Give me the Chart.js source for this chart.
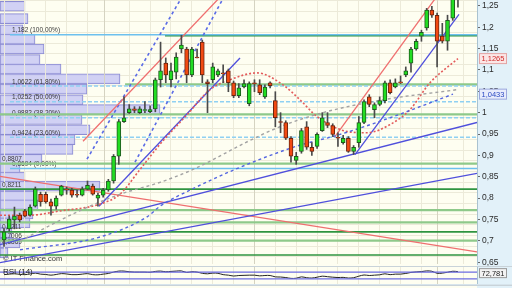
<!DOCTYPE html>
<html><head><meta charset="utf-8">
<script src="https://cdn.jsdelivr.net/npm/chart.js@4.4.1/dist/chart.umd.min.js"></script>
<style>
html,body{margin:0;padding:0;background:#d7e4ec;width:512px;height:288px;overflow:hidden;}
#wrap{position:relative;width:512px;height:288px;}
.panel{position:absolute;left:0;width:512px;background:linear-gradient(to right,#fefef1 0,#fefef1 477px,#e2f1f9 477px);}
canvas{position:absolute;left:0;top:0;}
</style></head>
<body><div id="wrap">
<div class="panel" style="top:0;height:266px"><canvas id="bg" width="512" height="266"></canvas><canvas id="main" width="512" height="266"></canvas></div>
<div class="panel" style="top:266px;height:17px;border-top:1px solid #c9d3d9"><canvas id="rsi" width="512" height="17"></canvas></div>
<div class="panel" style="top:285px;height:3px;border-top:1px solid #c9d3d9"></div>
</div>
<script>
// ---------- DATA ----------
const open = [0.702,0.728,0.749,0.760,0.770,0.760,0.781,0.809,0.809,0.791,
0.781,0.807,0.821,0.819,0.809,0.807,0.821,0.828,0.800,0.807,
0.819,0.840,0.898,0.979,1.000,1.009,1.000,1.005,1.002,1.009,
1.077,1.116,1.077,1.095,1.149,1.149,1.088,1.130,1.165,1.072,
1.077,1.088,1.093,1.098,1.070,1.040,1.060,1.021,1.070,1.065,
1.037,1.070,1.028,0.979,0.977,0.940,0.888,0.909,0.967,0.919,
0.921,0.958,0.977,0.970,0.942,0.930,0.940,0.909,0.930,0.977,
1.037,1.007,1.019,1.028,1.070,1.060,1.072,1.088,1.116,1.149,
1.179,1.198,1.240,1.228,1.179,1.167,1.221,1.267];
const high = [0.728,0.758,0.779,0.765,0.774,0.784,0.826,0.814,0.814,0.798,
0.805,0.830,0.826,0.823,0.819,0.826,0.840,0.833,0.812,0.823,
0.844,0.902,0.984,1.037,1.019,1.014,1.014,1.026,1.016,1.081,
1.165,1.128,1.116,1.140,1.181,1.153,1.153,1.149,1.170,1.077,
1.116,1.102,1.112,1.102,1.074,1.068,1.077,1.072,1.077,1.077,
1.065,1.072,1.049,1.000,0.981,0.944,0.907,0.963,0.979,0.930,
0.953,1.000,1.000,0.974,0.953,0.947,0.944,0.923,0.991,1.030,
1.042,1.023,1.037,1.074,1.077,1.079,1.086,1.107,1.153,1.172,
1.193,1.244,1.249,1.233,1.209,1.228,1.298,1.286];
const low = [0.687,0.723,0.728,0.744,0.756,0.758,0.779,0.781,0.788,0.760,
0.774,0.805,0.809,0.802,0.802,0.805,0.819,0.807,0.781,0.802,
0.816,0.835,0.879,0.977,0.998,1.000,0.998,1.000,1.000,1.002,
1.060,1.070,1.060,1.079,1.140,1.070,1.084,1.128,1.070,1.000,
1.070,1.084,1.070,1.049,1.035,1.035,1.058,1.016,1.049,1.042,
1.033,1.058,0.967,0.953,0.937,0.884,0.879,0.905,0.914,0.900,
0.916,0.956,0.965,0.944,0.921,0.926,0.907,0.902,0.919,0.974,
1.014,0.988,1.016,1.023,1.044,1.058,1.068,1.084,1.095,1.146,
1.167,1.193,1.223,1.107,1.163,1.146,1.216,1.247];
const close = [0.721,0.751,0.758,0.749,0.758,0.779,0.821,0.791,0.791,0.781,
0.800,0.828,0.819,0.807,0.807,0.821,0.830,0.809,0.807,0.819,
0.840,0.898,0.979,0.988,1.009,1.005,1.009,1.007,1.007,1.077,
1.098,1.088,1.098,1.130,1.158,1.088,1.149,1.128,1.088,1.068,
1.107,1.098,1.091,1.070,1.040,1.058,1.068,1.068,1.068,1.047,
1.060,1.063,0.988,0.977,0.940,0.898,0.898,0.958,0.919,0.909,
0.949,0.988,0.970,0.949,0.940,0.940,0.909,0.919,0.977,1.026,
1.019,1.019,1.028,1.070,1.047,1.070,1.070,1.098,1.149,1.167,
1.188,1.240,1.228,1.167,1.167,1.216,1.277,1.272];

const rsi = [55,58,60,57,55,59,64,58,56,52,
56,61,59,55,55,58,61,55,54,58,
62,70,76,76,72,70,70,70,69,74,
76,72,74,76,77,68,72,70,63,60,
64,63,55,52,47,50,51,52,52,48,
50,50,42,41,38,33,34,42,37,35,
40,46,43,40,38,39,35,37,46,53,
50,52,54,60,55,58,58,62,68,71,
73,77,75,63,64,69,75,72.781];

// volume-at-price profile
const profilePrice = [1.249,1.220,1.194,1.172,1.149,1.124,1.102,1.079,1.055,1.030,1.007,0.984,0.960,0.937,0.914,0.891,0.870,0.849,0.828,0.805,0.784,0.763,0.742,0.719,0.695,0.672];
const profileVol   = [25,28,23,35,44,40,61,120,87,83,160,82,90,75,73,42,20,25,100,35,38,33,30,12,20,8];

// Fibonacci retracement levels
const fibLevels = [1.182,1.0622,1.0252,0.9882,0.9424,0.8694];
const fibLabels = ['1,182 (100,00%)','1,0622 (61,80%)','1,0252 (50,00%)','0,9882 (38,20%)','0,9424 (23,60%)','0,8694 (0,00%)'];
const fibStart = 1.15;

// support / resistance levels
const greenLevels = [1.180,1.066,0.996,0.8807,0.8211,0.772,0.743,0.721,0.7006,0.667];
const greenStart  = [30.85,23.2,-0.77,-0.77,-0.77,-0.77,-0.77,-0.77,-0.77,-0.77];
const greenHeavy  = [true,false,false,false,true,false,false,true,false,true];
const keyLevels = [0.8807,0.8211,0.7211,0.7006,0.6869];
const keyLabels = ['0,8807','0,8211','0,7211','0,7006','0,6869'];

// trend lines (start index, start price, end index, end price)
const trendX0 = [15.14,15.9,25.1,18.2,67.27,63.43,-0.77,-0.77,-0.77];
const trendY0 = [0.933,0.891,0.884,0.781,0.902,0.944,0.691,0.649,0.851];
const trendX1 = [42,34.5,42.5,45.23,87.2,83,90.65,90.65,90.65];
const trendY1 = [1.278,1.279,1.279,1.128,1.230,1.273,0.977,0.858,0.674];
const trendKind = ['red','bdash','bdash','blue','blue','red','blue','blue','red'];

// moving averages
const redMaIdx = [-0.77,4.98,10.73,18.4,22.2,26.06,29.9,35.07,39.48,43.31,48.49,53.47,56.73,59.99,65.73,69.57,73.97,77.8,81.64,87];
const redMaVal = [0.760,0.760,0.770,0.786,0.809,0.867,0.926,0.995,1.054,1.077,1.093,1.065,1.030,0.991,0.956,0.953,0.972,1.007,1.070,1.1265];
const greyMaIdx = [3.07,15.14,22.23,29.9,36.22,47.14,52.9,61.13,72.63,87];
const greyMaVal = [0.700,0.774,0.809,0.837,0.867,0.935,0.967,1.000,1.030,1.054];
const blueMaIdx = [3.07,18.4,27.4,29.9,36.03,45.23,55.96,64.4,73.97,86.05];
const blueMaVal = [0.679,0.709,0.756,0.781,0.821,0.872,0.921,0.949,0.988,1.0433];

// axes
const yTickValues = [0.65,0.7,0.75,0.8,0.85,0.9,0.95,1.0,1.05,1.1,1.15,1.2,1.25];
const yTickLabels = ['0,65','0,7','0,75','0,8','0,85','0,9','0,95','1','1,05','1,1','1,15','1,2','1,25'];
const yGridValues = [0.65,0.675,0.7,0.725,0.75,0.775,0.8,0.825,0.85,0.875,0.9,0.925,0.95,0.975,1.0,1.025,1.05,1.075,1.1,1.125,1.15,1.175,1.2,1.225,1.25];
const xGridIdx = [0,4,8,12,16,24,28,32,36,40,44,52,56,60,64,68,72,76,80,88];
const monthIdx = [19.2,48,83];

// ---------- CONFIG ----------
const X_MIN = -0.77, X_MAX = 90.65, Y_MIN = 0.6458, Y_MAX = 1.2636;
const FONT = "'Liberation Sans', Arial, sans-serif";
Chart.defaults.font.family = FONT;
const AXIS_W = 35;

function xAxis(){
  return { type:'linear', min:X_MIN, max:X_MAX, offset:false,
    afterBuildTicks: s => { s.ticks = [...xGridIdx, ...monthIdx].sort((a,b)=>a-b).map(v=>({value:v})); },
    afterFit: s => { s.height = 0; s.paddingLeft = 0; s.paddingRight = 0; },
    ticks:{display:false}, border:{display:false},
    grid:{drawTicks:false, offset:false, lineWidth:1,
      color: c => (c.tick && monthIdx.includes(c.tick.value)) ? '#d5d3c1' : '#ecead9'} };
}
const fitY = s => { s.width = AXIS_W; s.paddingTop = 0; s.paddingBottom = 0; };

// background: grid + volume profile
new Chart(document.getElementById('bg'), {
  type:'bar',
  data:{ datasets:[{ data: profilePrice.map((p,i)=>({x:profileVol[i], y:p})),
    backgroundColor:'rgba(204,204,244,0.9)', borderColor:'#8c8cd2', borderWidth:1,
    borderSkipped:false, barThickness:10 }]},
  options:{ indexAxis:'y', responsive:false, animation:false, events:[],
    layout:{padding:{bottom:2}},
    plugins:{legend:{display:false}, tooltip:{enabled:false}},
    scales:{
      x:{type:'linear', min:0, max:477, display:false},
      y:{type:'linear', position:'right', min:Y_MIN, max:Y_MAX, offset:false,
        afterBuildTicks: s => { s.ticks = yGridValues.map(v=>({value:v})); },
        afterFit: fitY,
        ticks:{display:false}, border:{display:false},
        grid:{drawTicks:false, color:'#ecead9', lineWidth:1}}
    }}
});

// main chart
function seg(x0,y0,x1,y1,color,width,dash,order){
  return {type:'line', data:[{x:x0,y:y0},{x:x1,y:y1}], borderColor:color, borderWidth:width,
    borderDash:dash, pointRadius:0, fill:false, tension:0, order};
}
const ds = [];
greenLevels.forEach((v,i)=>{
  ds.push(greenHeavy[i] ? seg(greenStart[i],v,X_MAX,v,'#2f9440',1.6,[],30)
                        : seg(greenStart[i],v,X_MAX,v,'#8ec98a',2.2,[],30));
});
fibLevels.forEach((v,i)=>{
  const solid = (i===0 || i===fibLevels.length-1);
  ds.push(seg(fibStart,v,X_MAX,v, solid?'#6cc0ee':'#8fd0f2', 1.5, solid?[]:[4,2], 29));
});
const kindStyle = {red:['#ef6f6f',1.3,[]], blue:['#4f4fdc',1.3,[]], bdash:['#5a6be6',1.6,[3,3]]};
trendX0.forEach((x0,i)=>{
  const st = kindStyle[trendKind[i]];
  ds.push(seg(x0,trendY0[i],trendX1[i],trendY1[i],st[0],st[1],st[2],20));
});
function ma(idx,val,color,dash,width){
  return {type:'line', data: idx.map((x,i)=>({x, y:val[i]})), borderColor:color, borderWidth:width,
    borderDash:dash, pointRadius:0, fill:false, cubicInterpolationMode:'monotone', order:10};
}
ds.push(ma(greyMaIdx,greyMaVal,'#a3a3a3',[3,3],1.4));
ds.push(ma(blueMaIdx,blueMaVal,'#5365e0',[3,3],1.4));
ds.push(ma(redMaIdx,redMaVal,'#e35b5b',[2,2],1.6));

ds.push({type:'bar', data: open.map((o,i)=>({x:i, y:[low[i],high[i]]})),
  backgroundColor:'#4a4a4a', borderWidth:0, barThickness:1, grouped:false, order:2});
ds.push({type:'bar', data: open.map((o,i)=>({x:i, y:[o,close[i]]})),
  backgroundColor: open.map((o,i)=> close[i]>=o ? '#22dd22' : '#f24a12'),
  borderColor: open.map((o,i)=> close[i]>=o ? '#1f5a1f' : '#6a2410'),
  borderWidth:1, borderSkipped:false, barThickness:4, grouped:false, order:1});

const fmt = (v,d) => v.toFixed(d).replace('.',',');
const labelPlugin = {
  id:'levelLabels',
  beforeDatasetsDraw(chart){
    const {ctx, scales:{y}, chartArea} = chart;
    ctx.save();
    ctx.fillStyle = '#3a3a3a';
    ctx.textBaseline = 'bottom';
    ctx.font = "6.5px " + FONT;
    fibLevels.forEach((v,i)=> ctx.fillText(fibLabels[i], chartArea.left+12, y.getPixelForValue(v)-1));
    keyLevels.forEach((v,i)=> ctx.fillText(keyLabels[i], chartArea.left+2, y.getPixelForValue(v)-1));
    ctx.font = "7.5px " + FONT;
    ctx.fillStyle = '#333';
    ctx.fillText('\u00a9 IT-Finance.com', 3, chartArea.bottom-1);
    ctx.restore();
  },
  afterDraw(chart){
    const {ctx, scales:{y}, chartArea} = chart;
    const boxes = [
      {v: redMaVal[redMaVal.length-1], fg:'#d02a2a', bg:'#fbe6e6', bd:'#e4a4a4'},
      {v: blueMaVal[blueMaVal.length-1], fg:'#2a48c2', bg:'#e8ecfc', bd:'#9ca8de'}];
    ctx.save();
    ctx.font = "7.5px " + FONT;
    ctx.textBaseline = 'middle';
    boxes.forEach(b=>{
      const py = y.getPixelForValue(b.v);
      const x = chartArea.right+2.5, w = 27, h = 10;
      ctx.fillStyle = b.bg; ctx.fillRect(x, py-h/2, w, h);
      ctx.strokeStyle = b.bd; ctx.lineWidth = 1; ctx.strokeRect(x, py-h/2, w, h);
      ctx.fillStyle = b.fg; ctx.fillText(fmt(b.v,4), x+2, py+0.5);
    });
    ctx.restore();
  }
};

new Chart(document.getElementById('main'), {
  type:'bar',
  data:{datasets:ds},
  options:{ responsive:false, animation:false, events:[],
    layout:{padding:{bottom:2}},
    plugins:{legend:{display:false}, tooltip:{enabled:false}},
    scales:{
      x: xAxis(),
      y:{type:'linear', position:'right', min:Y_MIN, max:Y_MAX, offset:false,
        afterBuildTicks: s => { s.ticks = yTickValues.map(v=>({value:v})); },
        afterFit: fitY,
        ticks:{autoSkip:false, color:'#2a2a2a', padding:2, font:{size:8.5},
          callback:(v,i)=> yTickLabels[i]},
        grid:{drawOnChartArea:false, drawTicks:true, tickLength:3, color:'#6a6a6a'},
        border:{display:true, color:'#a9c2d0'}}
    }},
  plugins:[labelPlugin]
});

// RSI panel
const rsiLevels = [70,30];
const rsiDs = rsiLevels.map(v=>({type:'line', data:[{x:X_MIN,y:v},{x:X_MAX,y:v}], borderColor:'#6b6be2', borderWidth:1.2, pointRadius:0}));
rsiDs.push({type:'line', data: rsi.map((v,i)=>({x:i, y:v})), borderColor:'#222', borderWidth:1, pointRadius:0, tension:0.35});
const rsiPlugin = {
  id:'rsiText',
  afterDraw(chart){
    const {ctx, scales:{y}, chartArea} = chart;
    ctx.save();
    ctx.font = "8px " + FONT; ctx.fillStyle = '#222'; ctx.textBaseline = 'middle';
    ctx.fillText('RSI (14)', 3, 5);
    const v = rsi[rsi.length-1];
    const py = y.getPixelForValue(v) + 1.5;
    const x = chartArea.right+2.5, w = 27, h = 9;
    ctx.fillStyle = '#f3f3f3'; ctx.fillRect(x, py-h/2, w, h);
    ctx.strokeStyle = '#9a9a9a'; ctx.lineWidth = 1; ctx.strokeRect(x, py-h/2, w, h);
    ctx.fillStyle = '#222'; ctx.font = "7.5px " + FONT;
    ctx.fillText(fmt(v,3), x+2, py+0.5);
    ctx.restore();
  }
};
new Chart(document.getElementById('rsi'), {
  type:'line',
  data:{datasets:rsiDs},
  options:{ responsive:false, animation:false, events:[],
    layout:{padding:0},
    plugins:{legend:{display:false}, tooltip:{enabled:false}},
    scales:{
      x: xAxis(),
      y:{type:'linear', position:'right', min:0, max:100,
        afterFit: fitY, ticks:{display:false},
        grid:{drawOnChartArea:false, drawTicks:false},
        border:{display:true, color:'#a9c2d0'}}
    }},
  plugins:[rsiPlugin]
});
</script>
</body></html>
